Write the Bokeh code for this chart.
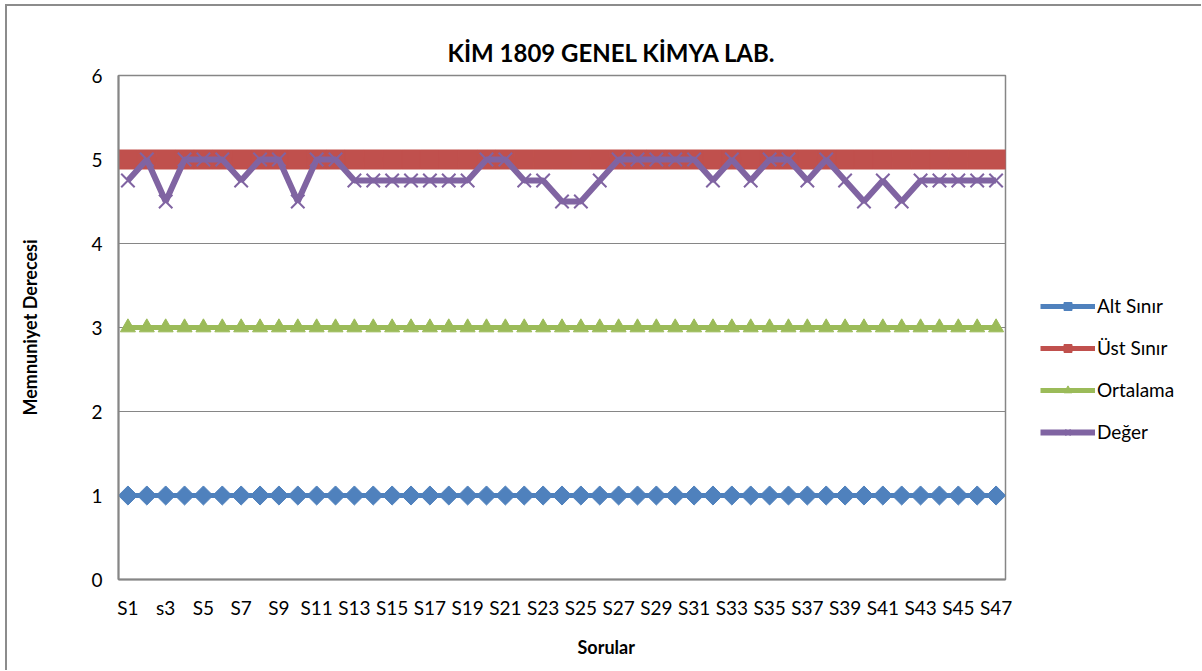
import numpy as np
from bokeh.plotting import figure
from bokeh.layouts import row
from bokeh.models import Legend, LegendItem, FixedTicker, ColumnDataSource, Title
from bokeh.embed import file_html
from bokeh.resources import INLINE

categories = ["S1", "S2", "s3", "S4", "S5", "S6", "S7", "S8", "S9", "S10",
              "S11", "S12", "S13", "S14", "S15", "S16", "S17", "S18", "S19", "S20",
              "S21", "S22", "S23", "S24", "S25", "S26", "S27", "S28", "S29", "S30",
              "S31", "S32", "S33", "S34", "S35", "S36", "S37", "S38", "S39", "S40",
              "S41", "S42", "S43", "S44", "S45", "S46", "S47"]
alt_sinir = [1, 1, 1, 1, 1, 1, 1, 1, 1, 1, 1, 1, 1, 1, 1, 1, 1, 1, 1, 1, 1, 1, 1, 1,
             1, 1, 1, 1, 1, 1, 1, 1, 1, 1, 1, 1, 1, 1, 1, 1, 1, 1, 1, 1, 1, 1, 1]
ust_sinir = [5, 5, 5, 5, 5, 5, 5, 5, 5, 5, 5, 5, 5, 5, 5, 5, 5, 5, 5, 5, 5, 5, 5, 5,
             5, 5, 5, 5, 5, 5, 5, 5, 5, 5, 5, 5, 5, 5, 5, 5, 5, 5, 5, 5, 5, 5, 5]
ortalama = [3, 3, 3, 3, 3, 3, 3, 3, 3, 3, 3, 3, 3, 3, 3, 3, 3, 3, 3, 3, 3, 3, 3, 3,
            3, 3, 3, 3, 3, 3, 3, 3, 3, 3, 3, 3, 3, 3, 3, 3, 3, 3, 3, 3, 3, 3, 3]
deger = [4.75, 5, 4.5, 5, 5, 5, 4.75, 5, 5, 4.5, 5, 5, 4.75, 4.75, 4.75, 4.75, 4.75,
         4.75, 4.75, 5, 5, 4.75, 4.75, 4.5, 4.5, 4.75, 5, 5, 5, 5, 5, 4.75, 5, 4.75,
         5, 5, 4.75, 5, 4.75, 4.5, 4.75, 4.5, 4.75, 4.75, 4.75, 4.75, 4.75]
series_names = ["Alt Sınır", "Üst Sınır", "Ortalama", "Değer"]
y_ticks = [0, 1, 2, 3, 4, 5, 6]

# category positions on a linear scale (1..47), labels every second category
pos = list(range(1, len(categories) + 1))
src = ColumnDataSource(dict(x=pos, alt=alt_sinir, ust=ust_sinir, ort=ortalama, deg=deger))

FONT = "Lato"
GRAY = "#868686"
BLUE = "#4F81BD"
RED = "#C0504D"
GREEN = "#9BBB59"
PURPLE = "#8064A2"

H = 664
p = figure(width=1008, height=H, x_range=(0.5, len(categories) + 0.5), y_range=(0, 6),
           output_backend="svg", toolbar_location=None,
           min_border_left=111, min_border_right=10, min_border_top=69, min_border_bottom=87)

p.title.text = "KİM 1809 GENEL KİMYA LAB."
p.title.align = "left"
p.title.text_font = FONT
p.title.text_font_size = "24px"
p.title.text_font_style = "bold"
p.title.text_color = "black"
p.title.offset = 329
p.title.standoff = 18

p.outline_line_color = GRAY
p.outline_line_width = 1.5
p.background_fill_color = "white"
p.border_fill_color = "white"

p.xgrid.grid_line_color = None
p.ygrid.grid_line_color = GRAY
p.ygrid.grid_line_width = 1.2

p.yaxis.ticker = FixedTicker(ticks=y_ticks)
p.xaxis.ticker = FixedTicker(ticks=pos[::2])
p.xaxis.major_label_overrides = {i: c for i, c in zip(pos, categories)}
for ax in (p.xaxis, p.yaxis):
    ax.axis_line_color = GRAY
    ax.axis_line_width = 2
    ax.major_tick_line_color = None
    ax.minor_tick_line_color = None
    ax.major_tick_out = 0
    ax.major_tick_in = 0
    ax.major_label_text_font = FONT
    ax.major_label_text_font_size = "19px"
    ax.major_label_text_color = "black"
    ax.axis_label_text_font = FONT
    ax.axis_label_text_font_size = "18px"
    ax.axis_label_text_font_style = "bold"
    ax.axis_label_text_color = "black"

p.yaxis.axis_label = "Memnuniyet Derecesi"
p.yaxis.major_label_standoff = 16
p.yaxis.axis_label_standoff = 47
p.xaxis.major_label_standoff = 16

xlabel = Title(text="Sorular", align="left", offset=459, text_font=FONT,
               text_font_size="18px", text_font_style="bold", text_color="black",
               standoff=25)
p.add_layout(xlabel, "below")

styles = [
    dict(y="alt", color=BLUE, marker="square", angle=np.pi / 4, size=13.5, lw=5),
    dict(y="ust", color=RED, marker="square", angle=0, size=19, lw=5),
    dict(y="ort", color=GREEN, marker="triangle", angle=0, size=15, lw=5),
    dict(y="deg", color=PURPLE, marker="x", angle=0, size=19, lw=6),
]

# legend panel as a second figure to the right of the plot; its copies of the
# series use the same data but lie outside its visible ranges
pl = figure(width=1194 - 1008, height=H, x_range=(-2, -1), y_range=(-2, -1),
            output_backend="svg", toolbar_location=None,
            x_axis_type=None, y_axis_type=None,
            min_border_left=0, min_border_right=0, min_border_top=0, min_border_bottom=0)
pl.outline_line_color = None
pl.grid.grid_line_color = None
pl.background_fill_color = "white"
pl.border_fill_color = "white"

items = []
for name, st in zip(series_names, styles):
    p.line("x", st["y"], source=src, line_color=st["color"], line_width=st["lw"])
    if st["marker"] == "x":
        p.scatter("x", st["y"], source=src, marker="x", size=st["size"],
                  line_color=st["color"], line_width=2)
    else:
        p.scatter("x", st["y"], source=src, marker=st["marker"], angle=st["angle"],
                  size=st["size"], fill_color=st["color"], line_color=st["color"])
    ll = pl.line("x", st["y"], source=src, line_color=st["color"], line_width=st["lw"])
    if st["marker"] == "x":
        ls = pl.scatter("x", st["y"], source=src, marker="x", size=12,
                        line_color=st["color"], line_width=2)
    else:
        ls = pl.scatter("x", st["y"], source=src, marker=st["marker"], angle=st["angle"],
                        size=12, fill_color=st["color"], line_color=st["color"])
    items.append(LegendItem(label=name, renderers=[ll, ls]))

legend = Legend(items=items, location=(25, 136))
legend.glyph_width = 55
legend.glyph_height = 20
legend.label_height = 20
legend.spacing = 19
legend.padding = 0
legend.margin = 0
legend.border_line_color = None
legend.background_fill_alpha = 0
legend.label_text_font = FONT
legend.label_text_font_size = "19px"
legend.label_text_color = "black"
legend.label_standoff = 2
pl.add_layout(legend, "center")

layout = row(p, pl, styles={"border-left": "2px solid #8c8c8c", "border-top": "2px solid #8c8c8c",
                            "margin-left": "5px", "margin-top": "4px"})

open("out.html", "w").write(file_html(layout, INLINE))
